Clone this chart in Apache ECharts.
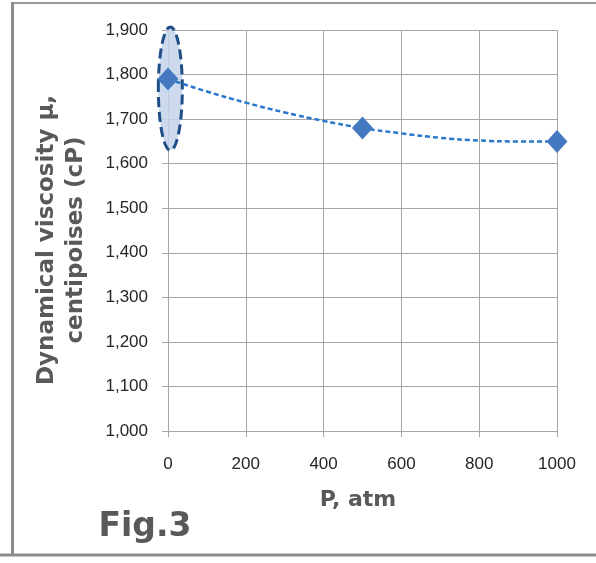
<!DOCTYPE html>
<html>
<head>
<meta charset="utf-8">
<script src="https://cdn.jsdelivr.net/npm/echarts@6/dist/echarts.min.js"></script>
<style>html,body{margin:0;padding:0;background:#fff}#c{width:596px;height:563px}</style>
</head>
<body>
<div id="c"></div>
<script>
// Measured points: pressure (atm) and dynamic viscosity (cP)
const pressure = [0, 500, 1000];
const viscosity = [1790, 1680, 1650];
// Dashed trend curve
const trendP = [0, 100, 200, 300, 400, 500, 600, 700, 800, 900, 1000];
const trendV = [1790, 1762, 1737, 1715, 1696, 1680, 1668, 1658, 1652, 1650, 1650];
// Highlighted ellipse: centre pressure, top and bottom viscosity
const highlight = [[6, 1907, 1630]];
const yTicks = [1000, 1900, 100];
const xTicks = [0, 1000, 200];

const chart = echarts.init(document.getElementById('c'), null, {renderer: 'canvas'});
const grey = '#A6A6A6';
const txt = '#595959';
chart.setOption({
  animation: false,
  grid: {left: 168, right: 39, top: 30, bottom: 132},
  xAxis: {
    type: 'value', min: xTicks[0], max: xTicks[1], interval: xTicks[2],
    axisLine: {lineStyle: {color: grey, width: 1}},
    axisTick: {show: true, length: 6, lineStyle: {color: grey}},
    splitLine: {lineStyle: {color: grey, width: 1}},
    axisLabel: {margin: 25, color: '#262626', fontFamily: 'Liberation Sans', fontSize: 17,
      formatter: v => String(v)}
  },
  yAxis: {
    type: 'value', min: yTicks[0], max: yTicks[1], interval: yTicks[2],
    axisLine: {show: true, lineStyle: {color: grey, width: 1}},
    axisTick: {show: true, length: 6, lineStyle: {color: grey}},
    splitLine: {lineStyle: {color: grey, width: 1}},
    axisLabel: {margin: 20, color: '#262626', fontFamily: 'Liberation Sans', fontSize: 17,
      formatter: v => v.toLocaleString('en-US')}
  },
  series: [
    {
      type: 'custom', z: 1,
      data: highlight,
      renderItem: function (params, api) {
        const top = api.coord([api.value(0), api.value(1)]);
        const bot = api.coord([api.value(0), api.value(2)]);
        return {
          type: 'ellipse',
          shape: {cx: top[0], cy: (top[1] + bot[1]) / 2, rx: 12, ry: (bot[1] - top[1]) / 2},
          style: {fill: 'rgba(196,212,235,0.85)', stroke: '#1F4E86', lineWidth: 3, lineDash: [10, 5]}
        };
      }
    },
    {
      type: 'line', z: 2,
      data: trendP.map((p, i) => [p, trendV[i]]),
      smooth: true, showSymbol: false, symbol: 'none',
      lineStyle: {color: '#2A77CC', width: 2.5, type: [5, 3]}
    },
    {
      type: 'scatter', z: 3,
      data: pressure.map((p, i) => [p, viscosity[i]]),
      symbol: 'diamond', symbolSize: [21, 23],
      itemStyle: {color: '#4479C0', opacity: 1}
    }
  ],
  graphic: [
    {type: 'line', shape: {x1: 12, y1: 3, x2: 596, y2: 3}, style: {stroke: '#9A9A9A', lineWidth: 2}},
    {type: 'line', shape: {x1: 12.5, y1: 2, x2: 12.5, y2: 555}, style: {stroke: '#8C8C8C', lineWidth: 3}},
    {type: 'line', shape: {x1: 0, y1: 555, x2: 596, y2: 555}, style: {stroke: '#8C8C8C', lineWidth: 3}},
    {type: 'text', x: 358, y: 500, style: {text: 'P, atm', font: 'bold 22px "DejaVu Sans"', fill: txt, align: 'center', verticalAlign: 'middle'}},
    {type: 'text', x: 145, y: 527, style: {text: 'Fig.3', font: 'bold 33px "DejaVu Sans"', fill: txt, align: 'center', verticalAlign: 'middle'}},
    {type: 'text', x: 62, y: 240, rotation: Math.PI / 2,
      style: {text: 'Dynamical viscosity μ,\ncentipoises (cP)', font: 'bold 23px "DejaVu Sans"', lineHeight: 29, fill: txt, align: 'center', verticalAlign: 'middle'}}
  ]
});
</script>
</body>
</html>
